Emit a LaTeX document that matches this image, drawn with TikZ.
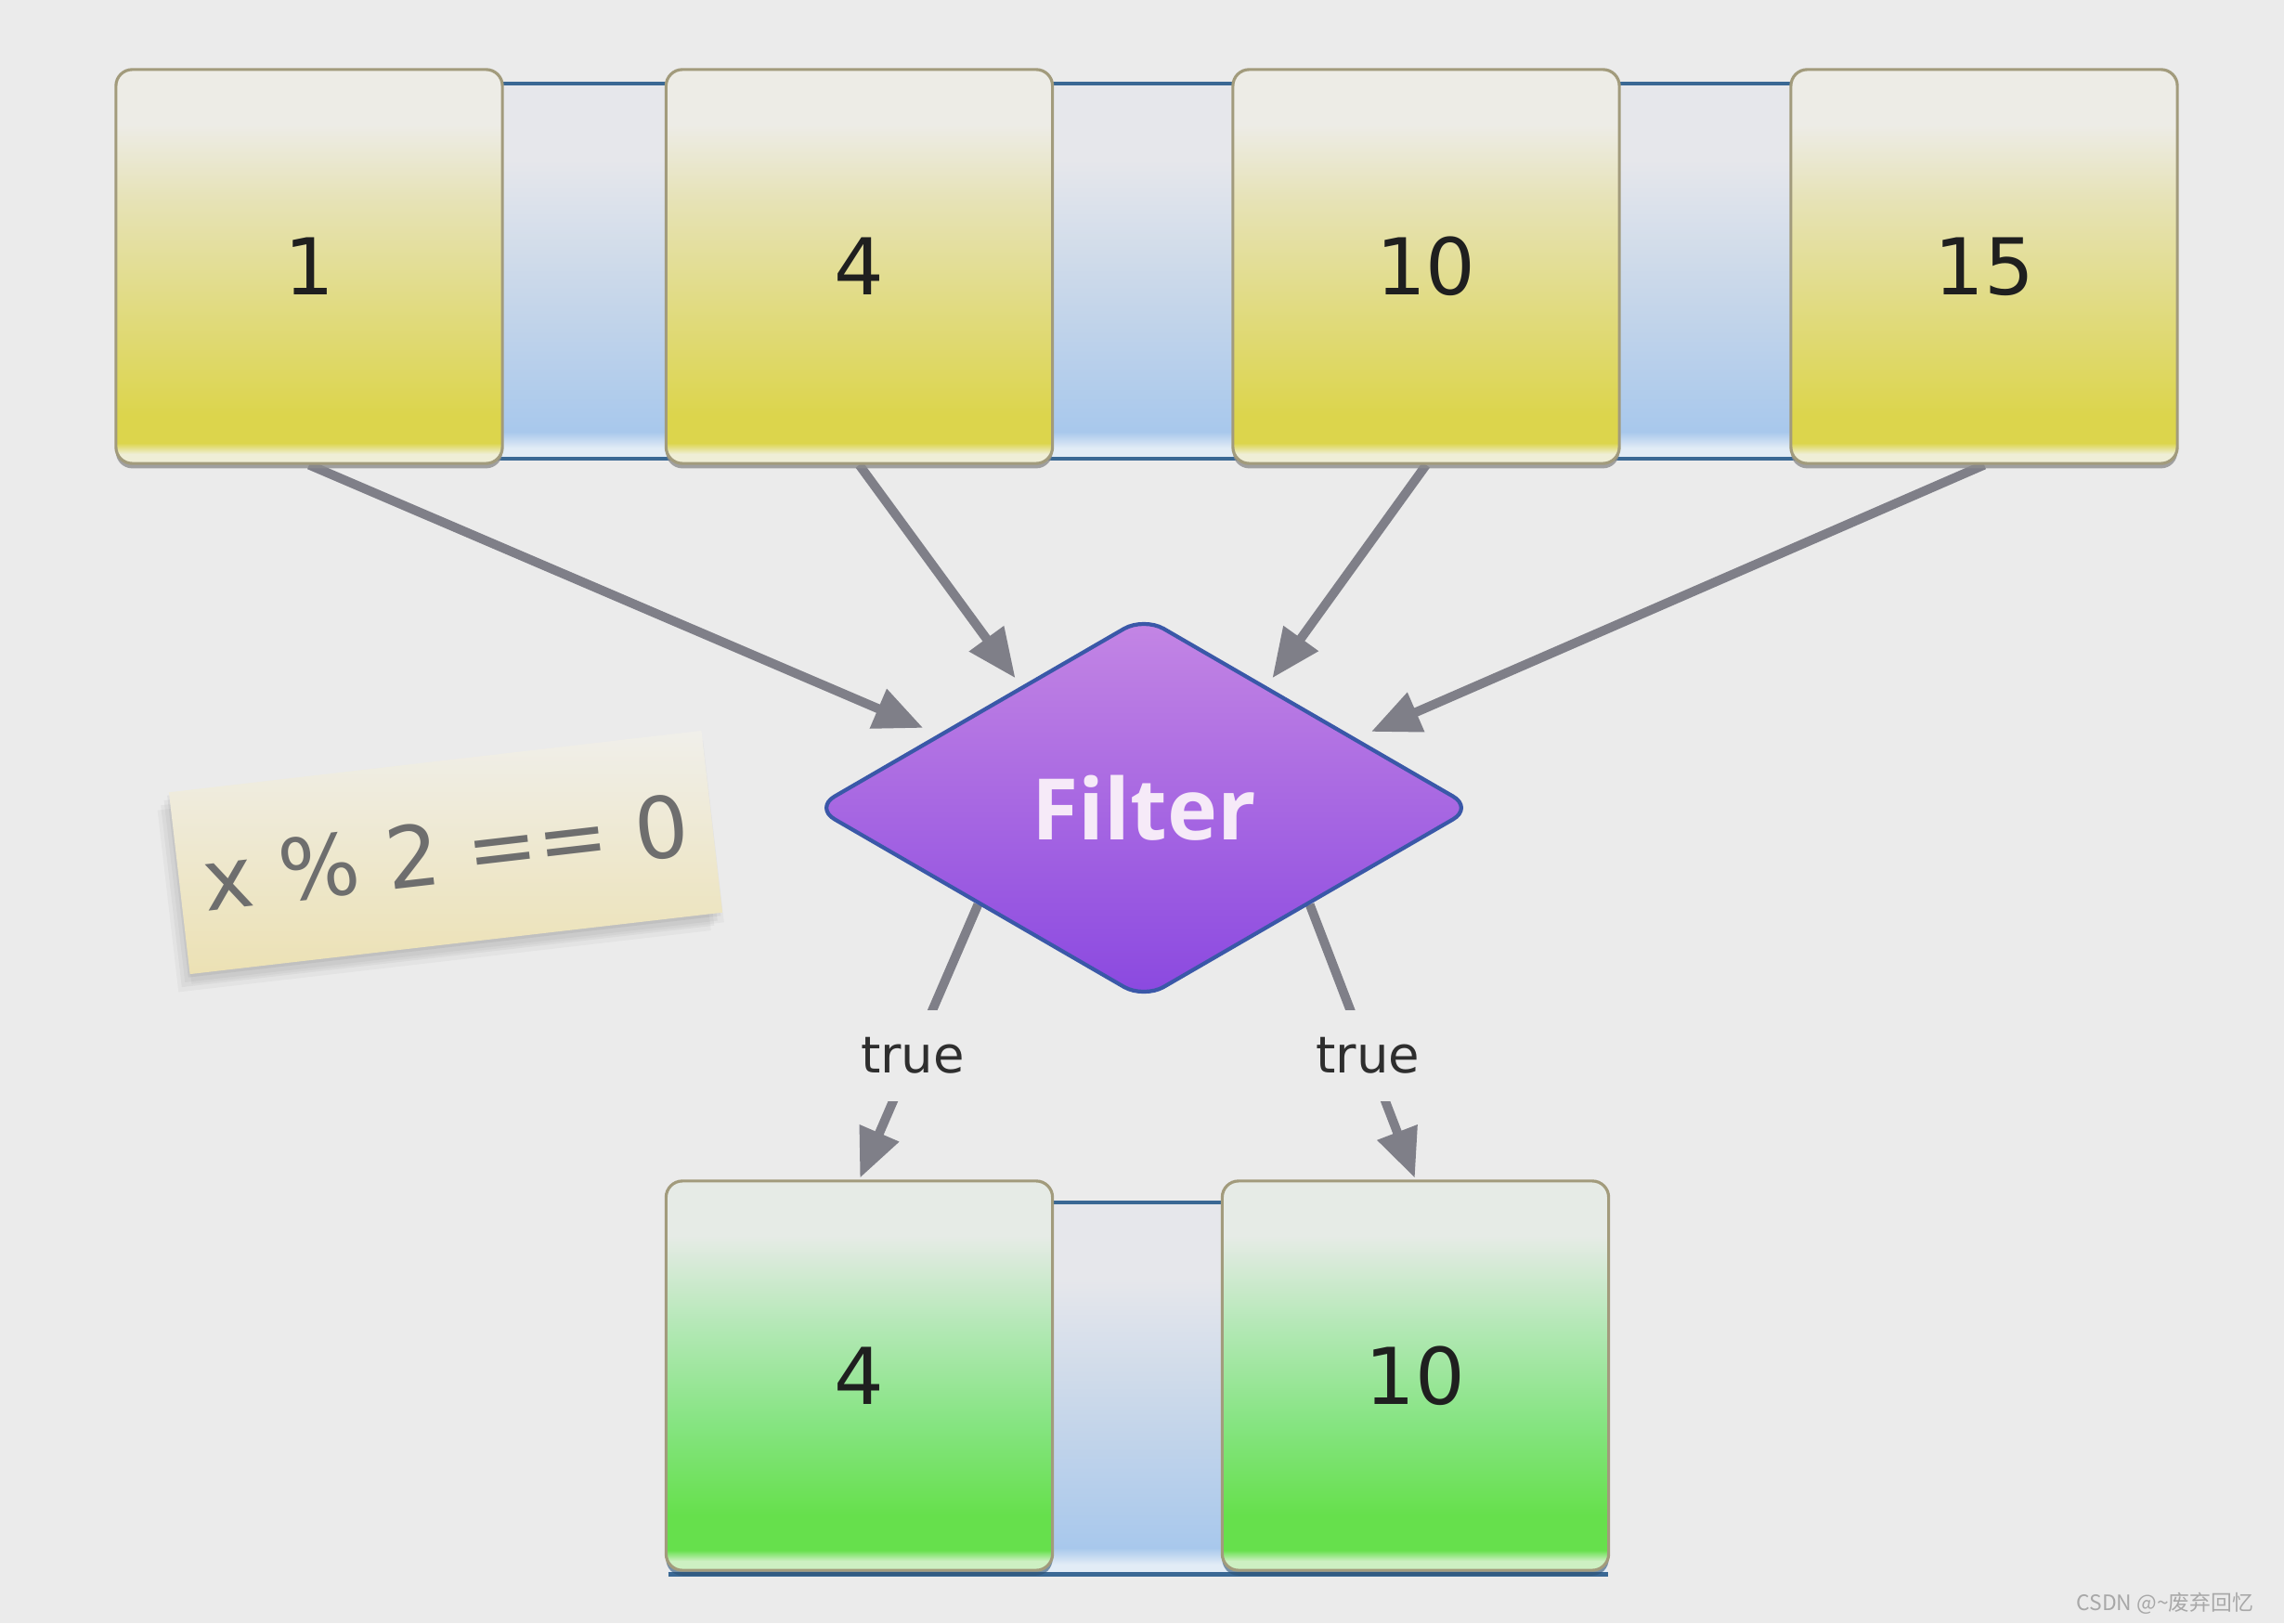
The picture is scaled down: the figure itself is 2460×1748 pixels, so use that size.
\documentclass[tikz,border=0pt]{standalone}
\usepackage{fontspec}
\setmainfont{DejaVu Sans}
\newfontfamily\filterfont{Open Sans}
\newfontfamily\cjkfont{Noto Sans CJK SC}
\usetikzlibrary{shapes.geometric,arrows.meta,calc,shadows}

\definecolor{bgc}{HTML}{EBEBEB}
\definecolor{yA}{HTML}{EFEED6}
\definecolor{yB}{HTML}{DCD54C}
\definecolor{yC}{HTML}{E0DA7A}
\definecolor{yD}{HTML}{E6E2B4}
\definecolor{yE}{HTML}{EDECE6}
\definecolor{gA}{HTML}{CDF0C2}
\definecolor{gB}{HTML}{66E04C}
\definecolor{gC}{HTML}{86E482}
\definecolor{gD}{HTML}{B2E8B4}
\definecolor{gE}{HTML}{E6EBE6}
\definecolor{bA}{HTML}{E2ECF6}
\definecolor{bB}{HTML}{A8C8EC}
\definecolor{bC}{HTML}{C4D5EA}
\definecolor{bD}{HTML}{E6E7EB}
\definecolor{nTop}{HTML}{F0EFEA}
\definecolor{nBot}{HTML}{ECE1B4}
\definecolor{boxline}{HTML}{A29B7C}
\definecolor{bandline}{HTML}{3A6894}
\definecolor{arrowc}{HTML}{7F7F88}
\definecolor{fTop}{HTML}{C486E4}
\definecolor{fBot}{HTML}{8A48E0}
\definecolor{fLine}{HTML}{3A58A8}
\definecolor{fText}{HTML}{F6EAF8}
\definecolor{ntext}{HTML}{6E6E6E}
\definecolor{wmc}{HTML}{A8A8A8}

\pgfdeclareverticalshading{yboxsh}{100bp}{color(0bp)=(yA); color(25bp)=(yA); color(26.2bp)=(yA); color(27.6bp)=(yB); color(31bp)=(yB); color(43bp)=(yC); color(58bp)=(yD); color(68bp)=(yE); color(100bp)=(yE)}
\pgfdeclareverticalshading{gboxsh}{100bp}{color(0bp)=(gA); color(25bp)=(gA); color(26.2bp)=(gA); color(27.6bp)=(gB); color(32bp)=(gB); color(44bp)=(gC); color(56bp)=(gD); color(68bp)=(gE); color(100bp)=(gE)}
\pgfdeclareverticalshading{bandsh}{100bp}{color(0bp)=(bA); color(25bp)=(bA); color(26.3bp)=(bA); color(28.5bp)=(bB); color(45bp)=(bC); color(65bp)=(bD); color(100bp)=(bD)}
\pgfdeclareverticalshading{notesh}{100bp}{color(0bp)=(nBot); color(25bp)=(nBot); color(75bp)=(nTop); color(100bp)=(nTop)}

\pgfdeclarelayer{bgl}
\pgfdeclarelayer{under}
\pgfsetlayers{bgl,under,main}

\begin{document}
\begin{tikzpicture}[x=0.01cm, y=-0.01cm,
  cell/.style={rectangle, rounded corners=5pt, minimum width=4.16cm, minimum height=4.24cm, inner sep=0pt, draw=boxline, line width=0.9pt, text=black!88, font=\fontsize{24}{28}\selectfont},
  ycell/.style={cell, shading=yboxsh, drop shadow={shadow xshift=0pt, shadow yshift=-1.5pt, fill=black!45, opacity=0.8}},
  gcell/.style={cell, minimum height=4.19cm, shading=gboxsh, drop shadow={shadow xshift=0pt, shadow yshift=-1.6pt, fill=bandline!80!black, opacity=0.6}},
  band/.style={rectangle, inner sep=0pt, shading=bandsh},
  bandedge/.style={draw=bandline, line width=1pt},
  flow/.style={draw=arrowc, line width=2.8pt, -{Triangle[length=15pt,width=12.5pt]}},
  lbl/.style={fill=bgc, inner xsep=1pt, minimum height=28pt, text=black!82, font=\fontsize{15.5}{18}\selectfont},
  filterbox/.style={diamond, minimum width=7.1cm, minimum height=4.12cm, rounded corners=7pt, top color=fTop, bottom color=fBot, draw=fLine, line width=1.2pt, inner sep=0pt, text=fText, font=\filterfont\bfseries\fontsize{26}{30}\selectfont},
  note/.style={rectangle, rotate=6.6, minimum width=5.77cm, minimum height=1.97cm, inner sep=0pt, shading=notesh, text=ntext, font=\fontsize{26}{30}\selectfont,
    drop shadow={shadow xshift=-0.5pt, shadow yshift=-1pt, fill=black, opacity=0.05},
    drop shadow={shadow xshift=-1.5pt, shadow yshift=-2.5pt, fill=black, opacity=0.04},
    drop shadow={shadow xshift=-2.5pt, shadow yshift=-4pt, fill=black, opacity=0.035},
    drop shadow={shadow xshift=-3.5pt, shadow yshift=-5.5pt, fill=black, opacity=0.03},
    drop shadow={shadow xshift=0.5pt, shadow yshift=-3pt, fill=black, opacity=0.03}},
]
\begin{pgfonlayer}{bgl}
\fill[bgc] (0,0) rectangle (2460,1748);
\end{pgfonlayer}
\useasboundingbox (0,0) rectangle (2460,1748);

% bands
\node[band, minimum width=16cm, minimum height=4.02cm] (tband) at (1236,292) {};
\draw[bandedge] (tband.north west) -- (tband.north east);
\draw[bandedge] (tband.south west) -- (tband.south east);
\node[band, minimum width=10.1cm, minimum height=3.99cm] (bband) at (1225.5,1495.5) {};
\draw[bandedge] (bband.north west) -- (bband.north east);
\draw[bandedge, line width=1.4pt] (bband.south west) -- (bband.south east);

% input boxes
\node[ycell] (b1) at (333,287) {1};
\node[ycell] (b2) at (925.5,287) {4};
\node[ycell] (b3) at (1536,287) {10};
\node[ycell] (b4) at (2137,287) {15};

% output boxes
\node[gcell] (o1) at (925.5,1481.5) {4};
\node[gcell] (o2) at (1524.5,1481.5) {10};

% filter
\node[filterbox] (f) at (1232,870) {Filter};

\coordinate (t1) at ($(f.west)!0.38!(f.north)$);
\coordinate (t2) at ($(f.west)!0.63!(f.north)$);
\coordinate (t3) at ($(f.east)!0.63!(f.north)$);
\coordinate (t4) at ($(f.east)!0.36!(f.north)$);

\begin{pgfonlayer}{under}
\draw[flow, shorten >=5pt] (b1.south) -- (t1);
\draw[flow, shorten >=3pt] (b2.south) -- (t2);
\draw[flow, shorten >=3pt] (b3.south) -- (t3);
\draw[flow, shorten >=5pt] (b4.south) -- (t4);
\draw[flow, shorten >=0.5pt] (f.south west) -- node[lbl, pos=0.55] (l1) {true} (o1.north);
\draw[flow, shorten >=0.5pt] (f.south east) -- node[lbl, pos=0.55] (l2) {true} (o2.north);
\end{pgfonlayer}

% note
\node[note] (n) at (480,918) {x \% 2 == 0};

% watermark
\node[anchor=east, inner sep=0pt, text=wmc, font=\cjkfont\fontsize{6.5}{8}\selectfont] (wm) at (2428,1727) {CSDN @\textasciitilde 废弃回忆};
\end{tikzpicture}
\end{document}
